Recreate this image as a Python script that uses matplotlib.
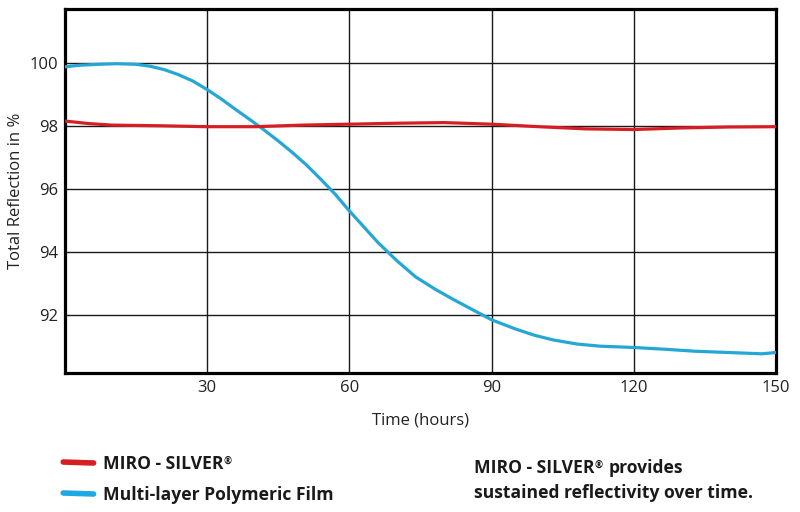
import numpy as np
import matplotlib.pyplot as plt

plt.rcParams['font.family'] = ['Open Sans', 'DejaVu Sans']

# time in hours and total reflection in %
miro_t = [0, 5, 10, 20, 30, 40, 50, 60, 70, 80, 90, 100, 110, 120, 130, 140, 150]
miro_r = [98.15, 98.07, 98.02, 98.0, 97.97, 97.97, 98.02, 98.05, 98.08, 98.1,
          98.05, 97.97, 97.9, 97.88, 97.93, 97.96, 97.97]

film_t = [0, 3, 7, 11, 15, 18, 21, 24, 27, 30, 33, 36, 39, 42, 45, 48, 51, 54,
          57, 60, 63, 66, 70, 74, 78, 82, 86, 90, 95, 99, 103, 108, 113, 120,
          127, 133, 140, 147, 150]
film_r = [99.87, 99.92, 99.95, 99.97, 99.95, 99.89, 99.78, 99.62, 99.42, 99.15,
          98.85, 98.52, 98.2, 97.87, 97.52, 97.15, 96.75, 96.3, 95.83, 95.3,
          94.8, 94.3, 93.72, 93.2, 92.82, 92.48, 92.16, 91.84, 91.55, 91.35,
          91.2, 91.07, 91.0, 90.96, 90.9, 90.84, 90.8, 90.76, 90.8]

xticks = [30, 60, 90, 120, 150]
yticks = [92, 94, 96, 98, 100]

red = '#d81e25'
blue = '#25a7d6'
ink = '#1a1a1a'

fig = plt.figure(figsize=(8, 5.12), dpi=100)
ax = fig.add_axes([0.081, 0.2715, 0.889, 0.7105])

ax.plot(film_t, film_r, color=blue, lw=2.3, solid_capstyle='round',
        solid_joinstyle='round', zorder=3)
ax.plot(miro_t, miro_r, color=red, lw=2.3, solid_capstyle='round',
        solid_joinstyle='round', zorder=4)

ax.set_xlim(0, 150)
ax.set_ylim(90.15, 101.7)
ax.set_xticks(xticks)
ax.set_yticks(yticks)
ax.grid(True, color=ink, lw=1.0)
ax.set_axisbelow(True)
ax.tick_params(length=0, labelsize=12, pad=5, colors='#222222')
for s in ax.spines.values():
    s.set_linewidth(2.3)
    s.set_color('black')

ax.set_xlabel('Time (hours)', fontsize=12, color='#222222', labelpad=12)
ax.set_ylabel('Total Reflection in %', fontsize=12, color='#222222', labelpad=4)

# legend drawn below the chart
fig.lines.append(plt.Line2D([0.079, 0.117], [1 - 462 / 512, 1 - 463 / 512],
                            color=red, lw=4, solid_capstyle='round',
                            transform=fig.transFigure))
fig.lines.append(plt.Line2D([0.079, 0.117], [1 - 493 / 512, 1 - 494 / 512],
                            color='#1ea9e6', lw=4, solid_capstyle='round',
                            transform=fig.transFigure))

fs = 12.6
t1 = fig.text(0.129, 1 - 464 / 512, 'MIRO - SILVER', fontsize=fs,
              fontweight='bold', va='center', color=ink)
ax.annotate('®', xy=(1, 0.95), xycoords=t1, fontsize=7, va='top',
            fontweight='bold', color=ink)
fig.text(0.129, 1 - 495 / 512, 'Multi-layer Polymeric Film', fontsize=fs,
         fontweight='bold', va='center', color=ink)

t2 = fig.text(0.593, 1 - 468 / 512, 'MIRO - SILVER', fontsize=fs,
              fontweight='bold', va='center', color=ink)
t3 = ax.annotate('®', xy=(1, 0.95), xycoords=t2, fontsize=7, va='top',
                 fontweight='bold', color=ink)
ax.annotate('provides', xy=(1, 0.5), xycoords=(t3, t2), xytext=(4, 0),
            textcoords='offset points', fontsize=fs, va='center',
            fontweight='bold', color=ink, annotation_clip=False)
fig.text(0.593, 1 - 493 / 512, 'sustained reflectivity over time.', fontsize=fs,
         fontweight='bold', va='center', color=ink)

fig.savefig('out.png', dpi=100)
